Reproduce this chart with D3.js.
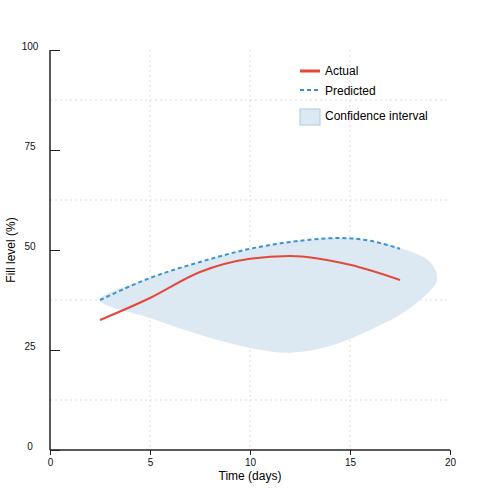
<!DOCTYPE html>
<html><head><meta charset="utf-8">
<script src="https://cdn.jsdelivr.net/npm/d3@7"></script>
<style>body{margin:0;background:#fff}text{font-family:"Liberation Sans",Arial,sans-serif}</style>
</head><body><svg id="chart" width="500" height="500"></svg>
<script>
const actualX = [2.5, 5, 7.5, 10, 12, 15, 17.5];
const actualY = [32.5, 38, 44.5, 47.8, 48.5, 46.3, 42.5];
const predX = [2.5, 5, 7.5, 10, 12.5, 14.5, 16, 17.5];
const predY = [37.5, 43, 47, 50.3, 52.3, 53, 52.3, 50.3];
const bandUpperX = [2.5, 5, 7.5, 10, 12.5, 15, 17.5, 19, 19.35];
const bandUpperY = [37.5, 43, 47, 50.3, 52.3, 53, 50.5, 47, 42.5];
const bandLowerX = [19.35, 18, 16, 14, 12, 10, 7.5, 5, 2.5];
const bandLowerY = [42.5, 35.5, 30, 26, 24.3, 25.5, 28.8, 33, 37.5];
const xTicks = [0, 5, 10, 15, 20];
const yTicks = [0, 25, 50, 75, 100];
const yGrid = [12.5, 37.5, 62.5, 87.5];

const svg = d3.select('#chart');
const x = d3.scaleLinear().domain([0, 20]).range([50, 450]);
const y = d3.scaleLinear().domain([0, 100]).range([450, 50]);

// grid
svg.selectAll('.vg').data([5, 10, 15]).enter().append('line')
	.attr('x1', d => x(d)).attr('x2', d => x(d)).attr('y1', 50).attr('y2', 450)
	.attr('stroke', '#ddd').attr('stroke-dasharray', '2,3');
svg.selectAll('.hg').data(yGrid).enter().append('line')
	.attr('x1', 50).attr('x2', 450).attr('y1', d => y(d)).attr('y2', d => y(d))
	.attr('stroke', '#ddd').attr('stroke-dasharray', '2,3');

// band
const bandPts = bandUpperX.map((v, i) => [v, bandUpperY[i]])
	.concat(bandLowerX.slice(1, -1).map((v, i) => [v, bandLowerY[i + 1]]));
svg.append('path')
	.attr('d', d3.line().x(d => x(d[0])).y(d => y(d[1])).curve(d3.curveCatmullRomClosed)(bandPts))
	.attr('fill', '#dce9f2');

const line = d3.line().x(d => x(d[0])).y(d => y(d[1])).curve(d3.curveMonotoneX);
svg.append('path').attr('d', line(predX.map((v, i) => [v, predY[i]])))
	.attr('fill', 'none').attr('stroke', '#3a91d6').attr('stroke-width', 2).attr('stroke-dasharray', '4,3');
svg.append('path').attr('d', line(actualX.map((v, i) => [v, actualY[i]])))
	.attr('fill', 'none').attr('stroke', '#e4483a').attr('stroke-width', 2);

// axes
const xAxis = svg.append('g').attr('transform', 'translate(0,450)')
	.call(d3.axisBottom(x).tickValues(xTicks).tickSize(5).tickPadding(4));
const yAxis = svg.append('g').attr('transform', 'translate(50,0)')
	.call(d3.axisRight(y).tickValues(yTicks).tickSize(10).tickFormat(d => d));
yAxis.selectAll('text').attr('x', -20).attr('dy', '-0.1em').attr('text-anchor', 'middle');
[xAxis, yAxis].forEach(a => {
	a.select('.domain').attr('stroke', '#222').attr('stroke-width', 1.5);
	a.selectAll('.tick line').attr('stroke', '#222');
	a.selectAll('text').attr('font-size', 10).attr('fill', '#111');
});
xAxis.select('.domain').attr('d', 'M50,0H450');
yAxis.select('.domain').attr('d', 'M0,50V450');

svg.append('text').attr('x', 250).attr('y', 480).attr('text-anchor', 'middle')
	.attr('font-size', 12).text('Time (days)');
svg.append('text').attr('transform', 'translate(15,250) rotate(-90)').attr('text-anchor', 'middle')
	.attr('font-size', 12).text('Fill level (%)');

// legend
const lg = svg.append('g');
lg.append('line').attr('x1', 300).attr('x2', 320).attr('y1', 71).attr('y2', 71)
	.attr('stroke', '#e4483a').attr('stroke-width', 3);
lg.append('line').attr('x1', 300).attr('x2', 320).attr('y1', 90).attr('y2', 90)
	.attr('stroke', '#3a91d6').attr('stroke-width', 2).attr('stroke-dasharray', '4,3');
lg.append('rect').attr('x', 300).attr('y', 109).attr('width', 20).attr('height', 16)
	.attr('fill', '#dce9f2').attr('stroke', '#a9cbe6');
[['Actual', 75], ['Predicted', 95], ['Confidence interval', 120]].forEach(([t, yy]) => {
	lg.append('text').attr('x', 325).attr('y', yy).attr('font-size', 12).text(t);
});
</script></body></html>
